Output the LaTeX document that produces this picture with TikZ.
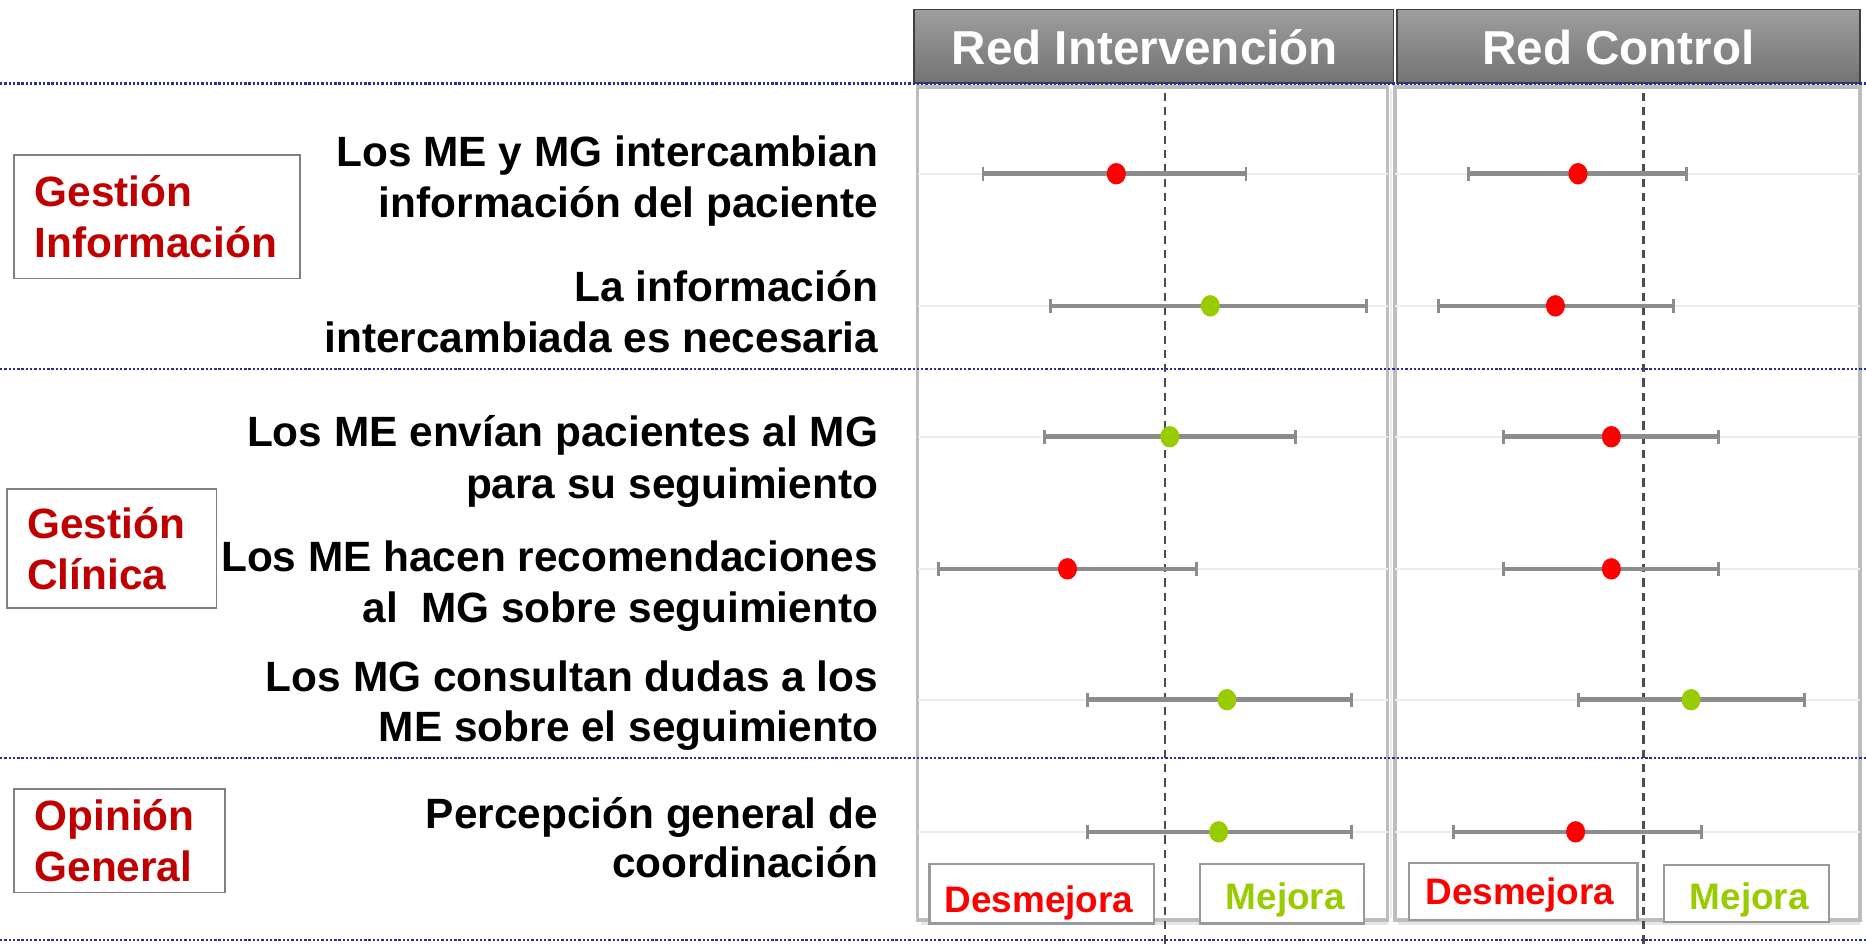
\documentclass[tikz,border=0pt]{standalone}
\usepackage{fontspec}
\setmainfont{Liberation Sans}
\usetikzlibrary{shapes.geometric}
\definecolor{navy}{HTML}{2B2F8F}
\definecolor{catred}{HTML}{C00000}
\definecolor{dred}{HTML}{FF0000}
\definecolor{dgreen}{HTML}{99CC00}
\definecolor{whisk}{HTML}{8C8C8C}
\definecolor{panelgray}{HTML}{BDBDBD}
\tikzset{
  sepline/.style={navy, line width=2.2pt, dash pattern=on 2pt off 1.6pt},
  hdr/.style={draw=black!75, line width=1.5pt, top color=black!38, bottom color=black!55,
    minimum height=62pt, inner sep=0pt},
  hdrtext/.style={anchor=base, inner sep=0pt, text=white, font=\fontsize{40}{48}\selectfont\bfseries},
  qtext/.style={anchor=base east, inner sep=0pt, font=\fontsize{35.6}{43}\selectfont\bfseries},
  catbox/.style={draw=black!50, line width=1.5pt, fill=white, align=left, text=catred,
    font=\fontsize{35.6}{43}\selectfont\bfseries, inner xsep=17pt, inner ysep=0pt},
  legbox/.style={draw=black!40, line width=1.8pt, fill=white, inner sep=0pt},
  legtext/.style={anchor=base, inner sep=0pt, font=\fontsize{31}{37}\selectfont\bfseries},
  zeroline/.style={black!70, line width=1.8pt, dash pattern=on 7pt off 5pt},
  grid/.style={black!7, line width=2pt},
  wh/.style={whisk, line width=3.8pt},
  tick/.style={whisk, line width=2.5pt},
  dotr/.style={ellipse, fill=dred, minimum width=16pt, minimum height=18pt, inner sep=0pt},
  dotg/.style={ellipse, fill=dgreen, minimum width=16pt, minimum height=18pt, inner sep=0pt},
  panel/.style={draw=panelgray, line width=3pt}
}
\begin{document}
\begin{tikzpicture}[x=1pt,y=-1pt]
\useasboundingbox (0,0) rectangle (1568,794);
\fill[white] (0,0) rectangle (1568,794);

% panels
\draw[panel] (771,73) rectangle (1166,773);
\draw[panel] (1172,73) rectangle (1563,773);
\draw[black!8, line width=2pt] (1169,75) -- (1169,771);
\draw[black!10, line width=2pt] (774,776) -- (1166,776);
\draw[black!10, line width=2pt] (1175,776) -- (1563,776);

% grid lines at rows
\foreach \y in {146,257,367,478,588,699}{
  \draw[grid] (771,\y) -- (1166,\y);
  \draw[grid] (1172,\y) -- (1563,\y);
}

% zero lines
\coordinate (zl1) at (979,78);
\coordinate (zl2) at (979,794);
\coordinate (zr1) at (1381,78);
\coordinate (zr2) at (1381,794);
\draw[zeroline] (zl1) -- (zl2);
\draw[zeroline] (zr1) -- (zr2);

% header boxes
\node[hdr, minimum width=403pt] (h1) at (969.5,39) {};
\node[hdr, minimum width=389pt] (h2) at (1368.5,39) {};
\node[hdrtext] (h1t) at (962,54) {Red Intervención};
\node[hdrtext] (h2t) at (1360,54) {Red Control};

% separator lines
\draw[sepline] (0,70) -- (1568,70);
\draw[sepline] (0,310) -- (1568,310);
\draw[sepline] (0,637) -- (1568,637);
\draw[sepline] (0,790) -- (1568,790);

% whiskers and points
\foreach \lo/\hi/\m/\c/\y/\n in {826/1047/938/r/146/a1, 883/1148/1017/g/257/a2, 878/1089/983/g/367/a3, 789/1005/897/r/478/a4, 914/1136/1031/g/588/a5, 914/1136/1024/g/699/a6,
  1234/1417/1326/r/146/b1, 1209/1406/1307/r/257/b2, 1263/1444/1354/r/367/b3, 1263/1444/1354/r/478/b4, 1326/1516/1421/g/588/b5, 1221/1430/1324/r/699/b6}{
  \coordinate (\n lo) at (\lo,\y);
  \coordinate (\n hi) at (\hi,\y);
  \draw[wh] (\n lo) -- (\n hi);
  \draw[tick] ([yshift=-6pt]\n lo) -- ([yshift=6pt]\n lo);
  \draw[tick] ([yshift=-6pt]\n hi) -- ([yshift=6pt]\n hi);
  \node[dot\c] (\n pt) at (\m,\y) {};
}

% legend boxes
\node[legbox, minimum width=189pt, minimum height=50pt] (l1) at (875.5,751) {};
\node[legbox, minimum width=138pt, minimum height=50pt] (l2) at (1077,751) {};
\node[legbox, minimum width=192pt, minimum height=48pt] (l3) at (1280,749) {};
\node[legbox, minimum width=139pt, minimum height=48pt] (l4) at (1467.5,751) {};
\node[legtext, text=dred] (l1t) at (873,767) {Desmejora};
\node[legtext, text=dgreen] (l2t) at (1080,764) {Mejora};
\node[legtext, text=dred] (l3t) at (1277,760) {Desmejora};
\node[legtext, text=dgreen] (l4t) at (1470,764) {Mejora};

% category boxes
\node[catbox, text width=206pt, minimum width=240pt, minimum height=104pt] (c1) at (132,182) {Gestión\\Información};
\node[catbox, text width=142pt, minimum width=176pt, minimum height=100pt] (c2) at (94,461) {Gestión\\Clínica};
\node[catbox, text width=143pt, minimum width=177pt, minimum height=87pt] (c3) at (100.5,706.5) {Opinión\\General};

% question texts
\node[qtext] (q1a) at (738,140) {Los ME y MG intercambian};
\node[qtext] (q1b) at (738,183) {información del paciente};
\node[qtext] (q2a) at (738,253) {La información};
\node[qtext] (q2b) at (738,296) {intercambiada es necesaria};
\node[qtext] (q3a) at (738,375) {Los ME envían pacientes al MG};
\node[qtext] (q3b) at (738,419) {para su seguimiento};
\node[qtext] (q4a) at (738,480) {Los ME hacen recomendaciones};
\node[qtext] (q4b) at (738,523) {al~ MG sobre seguimiento};
\node[qtext] (q5a) at (738,581) {Los MG consultan dudas a los};
\node[qtext] (q5b) at (738,623) {ME sobre el seguimiento};
\node[qtext] (q6a) at (738,696) {Percepción general de};
\node[qtext] (q6b) at (738,737) {coordinación};
\end{tikzpicture}
\end{document}
